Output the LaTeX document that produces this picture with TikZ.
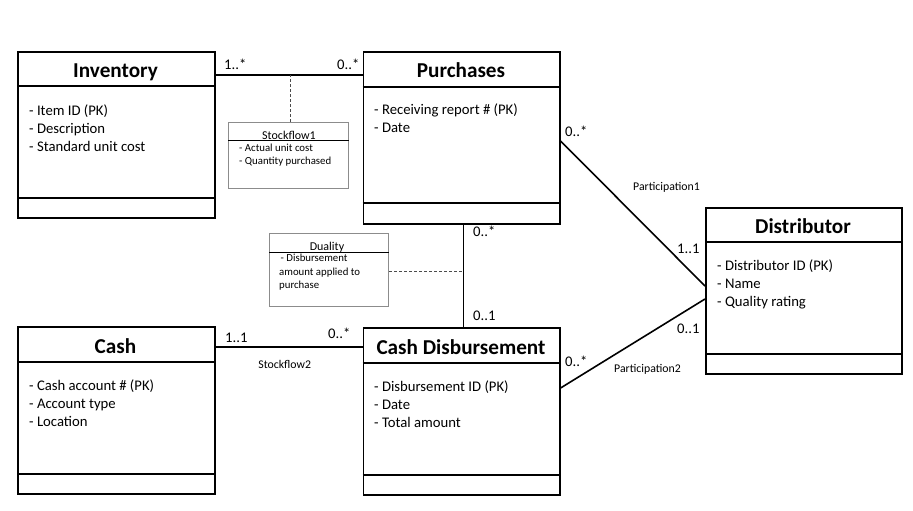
\documentclass[tikz,border=0pt]{standalone}
\usepackage{fontspec}
\setmainfont{Carlito}
\usetikzlibrary{positioning,calc}
\tikzset{
  classbox/.style={draw=black,line width=1.6pt,anchor=north west,inner sep=0pt},
  classname/.style={font=\fontsize{21.2}{24}\selectfont\bfseries,anchor=base,inner sep=0pt},
  attrlist/.style={font=\fontsize{14.7}{18}\selectfont,align=left,anchor=base west,inner sep=0pt},
  sepline/.style={line width=2.6pt},
  assocline/.style={line width=1.6pt,draw=black},
  multlabel/.style={font=\fontsize{14.7}{16}\selectfont,anchor=base west,inner sep=0pt},
  rolelabel/.style={font=\fontsize{11.8}{13}\selectfont,anchor=base,inner sep=0pt},
  linkbox/.style={draw=black!45,line width=1.1pt,anchor=north west,inner sep=0pt},
  linkname/.style={font=\fontsize{12}{13}\selectfont,anchor=base,inner sep=0pt},
  linkattr/.style={font=\fontsize{10.8}{13.3}\selectfont,align=left,anchor=base west,inner sep=0pt},
  linkdash/.style={draw=black!70,line width=0.9pt,dash pattern=on 3pt off 2pt}
}
\begin{document}
\begin{tikzpicture}[x=1pt,y=-1pt]
  \useasboundingbox (0,0) rectangle (913,511);
  % classes
  \node[classbox,minimum width=197pt,minimum height=166pt] (inventory) at (17,51) {};
  \draw[sepline] ([yshift=-35pt]inventory.north west) -- ([yshift=-35pt]inventory.north east);
  \draw[sepline] ([yshift=-147pt]inventory.north west) -- ([yshift=-147pt]inventory.north east);
  \node[classname] (inventoryname) at (115.5,77.5) {Inventory};
  \node[attrlist] (inventoryattr) at (29,151) {- Item ID (PK)\\- Description\\- Standard unit cost};

  \node[classbox,minimum width=196.5pt,minimum height=172pt] (purchases) at (362.5,51) {};
  \draw[sepline] ([yshift=-36pt]purchases.north west) -- ([yshift=-36pt]purchases.north east);
  \draw[sepline] ([yshift=-152pt]purchases.north west) -- ([yshift=-152pt]purchases.north east);
  \node[classname] (purchasesname) at (461,77.5) {Purchases};
  \node[attrlist] (purchasesattr) at (374,132) {- Receiving report \# (PK)\\- Date};

  \node[classbox,minimum width=196pt,minimum height=166pt] (distributor) at (705,207) {};
  \draw[sepline] ([yshift=-35pt]distributor.north west) -- ([yshift=-35pt]distributor.north east);
  \draw[sepline] ([yshift=-147pt]distributor.north west) -- ([yshift=-147pt]distributor.north east);
  \node[classname] (distributorname) at (803,233.5) {Distributor};
  \node[attrlist] (distributorattr) at (717,306) {- Distributor ID (PK)\\- Name\\- Quality rating};

  \node[classbox,minimum width=196.5pt,minimum height=167pt] (cashdisb) at (362.5,327) {};
  \draw[sepline] ([yshift=-36pt]cashdisb.north west) -- ([yshift=-36pt]cashdisb.north east);
  \draw[sepline] ([yshift=-148pt]cashdisb.north west) -- ([yshift=-148pt]cashdisb.north east);
  \node[classname] (cashdisbname) at (461,354) {Cash Disbursement};
  \node[attrlist] (cashdisbattr) at (374,427) {- Disbursement ID (PK)\\- Date\\- Total amount};

  \node[classbox,minimum width=197pt,minimum height=167pt] (cash) at (17,326) {};
  \draw[sepline] ([yshift=-36pt]cash.north west) -- ([yshift=-36pt]cash.north east);
  \draw[sepline] ([yshift=-148pt]cash.north west) -- ([yshift=-148pt]cash.north east);
  \node[classname] (cashname) at (115.5,353) {Cash};
  \node[attrlist] (cashattr) at (29,426) {- Cash account \# (PK)\\- Account type\\- Location};

  % association classes
  \node[linkbox,minimum width=120pt,minimum height=66pt] (stockflow1) at (228,121.7) {};
  \draw[line width=1.3pt] ([yshift=-19pt]stockflow1.north west) -- ([yshift=-19pt]stockflow1.north east);
  \node[linkname] (stockflow1name) at (289,139) {Stockflow1};
  \node[linkattr] (stockflow1attr) at (239,164.3) {- Actual unit cost\\- Quantity purchased};

  \node[linkbox,minimum width=119pt,minimum height=73.3pt] (duality) at (269,232.7) {};
  \draw[line width=1.3pt] ([yshift=-20pt]duality.north west) -- ([yshift=-20pt]duality.north east);
  \node[linkname] (dualityname) at (327,250) {Duality};
  \node[linkattr] (dualityattr) at (279,288.3) {\hspace*{1.5pt}- Disbursement\\amount applied to\\purchase};

  % associations
  \coordinate (invpur) at ([yshift=-24pt]inventory.north east);
  \coordinate (purinv) at ([yshift=-24pt]purchases.north west);
  \draw[assocline] (invpur) -- (purinv);
  \draw[linkdash] (stockflow1.north -| 290,0) -- (invpur -| 290,0);

  \coordinate (purcd) at ([xshift=2pt]purchases.south);
  \coordinate (cdpur) at ([xshift=2pt]cashdisb.north);
  \draw[assocline] (purcd) -- (cdpur);
  \draw[linkdash] ([yshift=-2pt]duality.east) -- ([yshift=-2pt]duality.east -| purcd);

  \coordinate (cashcd) at ([yshift=-21pt]cash.north east);
  \draw[assocline] (cashcd) -- (cashcd -| cashdisb.west);

  \draw[assocline] ([yshift=-90pt]purchases.north east) -- ([yshift=-79pt]distributor.north west);
  \draw[assocline] ([yshift=-61pt]cashdisb.north east) -- ([yshift=-92pt]distributor.north west);

  % multiplicities and labels
  \node[multlabel] (m1) at (224,70) {1..*};
  \node[multlabel] (m2) at (337,70) {0..*};
  \node[multlabel] (m3) at (473,236) {0..*};
  \node[multlabel] (m4) at (473,320) {0..1};
  \node[multlabel] (m5) at (225,342) {1..1};
  \node[multlabel] (m6) at (328,338.5) {0..*};
  \node[multlabel] (m7) at (565,136) {0..*};
  \node[multlabel] (m8) at (677,253) {1..1};
  \node[multlabel] (m9) at (677,333.5) {0..1};
  \node[multlabel] (m10) at (565,366) {0..*};
  \node[rolelabel] (stockflow2) at (284.7,368.5) {Stockflow2};
  \node[rolelabel] (particip1) at (666.5,190) {Participation1};
  \node[rolelabel] (particip2) at (647.5,372) {Participation2};
\end{tikzpicture}
\end{document}
